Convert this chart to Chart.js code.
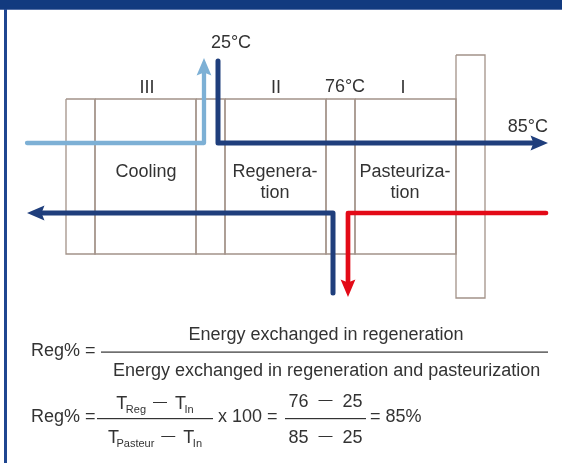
<!DOCTYPE html>
<html>
<head>
<meta charset="utf-8">
<title>Regeneration</title>
<script src="https://cdn.jsdelivr.net/npm/chart.js@4.4.1/dist/chart.umd.min.js"></script>
<style>
  html, body { margin: 0; padding: 0; background: #fff; }
  #wrap { position: relative; width: 562px; height: 463px; overflow: hidden; }
  #topbar { position: absolute; left: 0; top: 0; width: 562px; height: 9px; background: #123a7f; border-bottom: 1px solid #5570a6; }
  #sidebar { position: absolute; left: 4px; top: 9px; width: 3px; height: 454px; background: #1f4690; }
  canvas { position: absolute; left: 0; top: 0; }
</style>
</head>
<body>
<div id="wrap">
  <canvas id="regChart" width="562" height="463"></canvas>
  <div id="topbar"></div>
  <div id="sidebar"></div>
</div>
<script>
// temperatures (°C)
const tIn = 25;
const tReg = 76;
const tPasteur = 85;

// heat exchanger sections
const sectionNumerals = ['III', 'II', 'I'];
const sectionNames = [['Cooling'], ['Regenera-', 'tion'], ['Pasteuriza-', 'tion']];

// plate pack: edges of each plate along x, with top / bottom of each
const plateEdges = [66, 95, 196, 225, 326, 355, 456, 485];
const plateTops = [99, 99, 99, 99, 99, 99, 55];
const plateBottoms = [254, 254, 254, 254, 254, 254, 298];

// flow paths [x, y], last point is the arrow tip where there is one
const coolingFlow = [[27, 143], [204, 143], [204, 58]];
const rawMilkFlow = [[218, 61], [218, 143], [548, 143]];
const returnFlow = [[333, 293], [333, 213], [27, 213]];
const hotWaterFlow = [[546, 213], [348, 213], [348, 297]];

const FONT = '"Liberation Sans", Arial, sans-serif';
const TEXT = '#333333';
const ARROW_LEN = 17.5, ARROW_HALF = 7.4, ARROW_NOTCH = 3;

function flow(points, color, width, arrow) {
  const pts = points.map(p => ({ x: p[0], y: p[1] }));
  const ds = {
    data: pts,
    borderColor: color,
    borderWidth: width,
    borderJoinStyle: 'round',
    borderCapStyle: 'round',
    pointRadius: 0,
    fill: false,
    tension: 0,
    order: 1
  };
  if (arrow) {
    const tip = pts[pts.length - 1];
    const prev = pts[pts.length - 2];
    const len = Math.hypot(tip.x - prev.x, tip.y - prev.y);
    const back = ARROW_LEN - ARROW_NOTCH - 2;
    ds.arrowTip = tip;
    ds.arrowFrom = prev;
    pts[pts.length - 1] = {
      x: tip.x - (tip.x - prev.x) / len * back,
      y: tip.y - (tip.y - prev.y) / len * back
    };
  }
  return ds;
}

const plateSets = plateTops.map((top, i) => {
  const l = plateEdges[i], r = plateEdges[i + 1], b = plateBottoms[i];
  return {
    data: [{ x: l, y: top }, { x: r, y: top }, { x: r, y: b }, { x: l, y: b }, { x: l, y: top }],
    borderColor: '#a39389',
    borderWidth: 1.3,
    pointRadius: 0,
    fill: false,
    tension: 0,
    order: 2
  };
});

const arrowHeads = {
  id: 'arrowHeads',
  afterDatasetsDraw(chart) {
    const { ctx, scales: { x, y } } = chart;
    chart.data.datasets.forEach(ds => {
      if (!ds.arrowTip) return;
      const tx = x.getPixelForValue(ds.arrowTip.x), ty = y.getPixelForValue(ds.arrowTip.y);
      const fx = x.getPixelForValue(ds.arrowFrom.x), fy = y.getPixelForValue(ds.arrowFrom.y);
      const len = Math.hypot(tx - fx, ty - fy);
      const ux = (tx - fx) / len, uy = (ty - fy) / len;
      const px = -uy, py = ux;
      ctx.save();
      ctx.fillStyle = ds.borderColor;
      ctx.beginPath();
      ctx.moveTo(tx, ty);
      ctx.lineTo(tx - ux * ARROW_LEN + px * ARROW_HALF, ty - uy * ARROW_LEN + py * ARROW_HALF);
      ctx.lineTo(tx - ux * (ARROW_LEN - ARROW_NOTCH), ty - uy * (ARROW_LEN - ARROW_NOTCH));
      ctx.lineTo(tx - ux * ARROW_LEN - px * ARROW_HALF, ty - uy * ARROW_LEN - py * ARROW_HALF);
      ctx.closePath();
      ctx.fill();
      ctx.restore();
    });
  }
};

// run of text pieces (main text, subscripts, dashes) laid out left to right
function piecesWidth(ctx, pieces) {
  return pieces.reduce((w, p) => {
    ctx.font = p.size + 'px ' + FONT;
    return w + (p.gap || 0) + ctx.measureText(p.t).width;
  }, 0);
}
function drawPieces(ctx, pieces, left, baseline) {
  let cx = left;
  pieces.forEach(p => {
    ctx.font = p.size + 'px ' + FONT;
    cx += p.gap || 0;
    ctx.fillText(p.t, cx, baseline + (p.dy || 0));
    cx += ctx.measureText(p.t).width;
  });
}
function drawCentered(ctx, pieces, center, baseline) {
  drawPieces(ctx, pieces, center - piecesWidth(ctx, pieces) / 2, baseline);
}

const diagramText = {
  id: 'diagramText',
  afterDatasetsDraw(chart) {
    const { ctx, scales: { x, y } } = chart;
    const X = v => x.getPixelForValue(v), Y = v => y.getPixelForValue(v);
    ctx.save();
    ctx.fillStyle = TEXT;
    ctx.textBaseline = 'alphabetic';
    ctx.font = '18px ' + FONT;

    // temperatures
    ctx.textAlign = 'center';
    ctx.fillText(tIn + '°C', X(231), Y(48));
    ctx.fillText(tReg + '°C', X(345), Y(92));
    ctx.textAlign = 'right';
    ctx.fillText(tPasteur + '°C', X(548), Y(132));

    // section numerals and names
    ctx.textAlign = 'center';
    const numeralX = [147, 276, 403];
    const nameX = [146, 275, 405];
    sectionNumerals.forEach((s, i) => ctx.fillText(s, X(numeralX[i]), Y(93)));
    sectionNames.forEach((lines, i) => {
      lines.forEach((l, j) => ctx.fillText(l, X(nameX[i]), Y(177 + j * 21)));
    });

    // formula 1
    ctx.textAlign = 'left';
    ctx.fillText('Reg% =', X(31), Y(356));
    ctx.textAlign = 'center';
    ctx.fillText('Energy exchanged in regeneration', X(326), Y(339.5));
    ctx.textAlign = 'left';
    ctx.fillText('Energy exchanged in regeneration and pasteurization', X(113), Y(376));
    ctx.fillRect(X(101), Y(351.5), X(548) - X(101), 1.2);

    // formula 2
    ctx.fillText('Reg% =', X(31), Y(422));
    const dash = (gap) => ({ t: '—', size: 14, dy: -3, gap: gap });
    drawCentered(ctx, [
      { t: 'T', size: 18 }, { t: 'Reg', size: 11, dy: 4, gap: -1.5 },
      dash(7), { t: 'T', size: 18, gap: 8 }, { t: 'In', size: 11, dy: 4, gap: -1.5 }
    ], X(155), Y(409));
    drawCentered(ctx, [
      { t: 'T', size: 18 }, { t: 'Pasteur', size: 11, dy: 4, gap: -2.5 },
      dash(7), { t: 'T', size: 18, gap: 8 }, { t: 'In', size: 11, dy: 4, gap: -1.5 }
    ], X(155), Y(443));
    ctx.fillRect(X(97), Y(418), X(213) - X(97), 1.2);

    ctx.font = '18px ' + FONT;
    ctx.fillText('x 100 =', X(218), Y(422));
    drawCentered(ctx, [{ t: String(tReg), size: 18 }, dash(10), { t: String(tIn), size: 18, gap: 10 }], X(325.5), Y(407));
    drawCentered(ctx, [{ t: String(tPasteur), size: 18 }, dash(10), { t: String(tIn), size: 18, gap: 10 }], X(325.5), Y(443));
    ctx.fillRect(X(285), Y(418), X(366) - X(285), 1.2);

    const regPct = Math.round((tReg - tIn) / (tPasteur - tIn) * 100);
    ctx.font = '18px ' + FONT;
    ctx.fillText('= ' + regPct + '%', X(370), Y(422));
    ctx.restore();
  }
};

new Chart(document.getElementById('regChart').getContext('2d'), {
  type: 'line',
  data: {
    datasets: [
      ...plateSets,
      flow(coolingFlow, '#7db0d5', 4.3, true),
      flow(rawMilkFlow, '#1f3e7c', 5, true),
      flow(returnFlow, '#1f3e7c', 5, true),
      flow(hotWaterFlow, '#e30a17', 4.7, true)
    ]
  },
  options: {
    responsive: false,
    animation: false,
    devicePixelRatio: 1,
    layout: { padding: 0 },
    plugins: { legend: { display: false }, tooltip: { enabled: false } },
    scales: {
      x: { type: 'linear', min: 0, max: 562, display: false },
      y: { type: 'linear', min: 0, max: 463, reverse: true, display: false }
    }
  },
  plugins: [arrowHeads, diagramText]
});
</script>
</body>
</html>
